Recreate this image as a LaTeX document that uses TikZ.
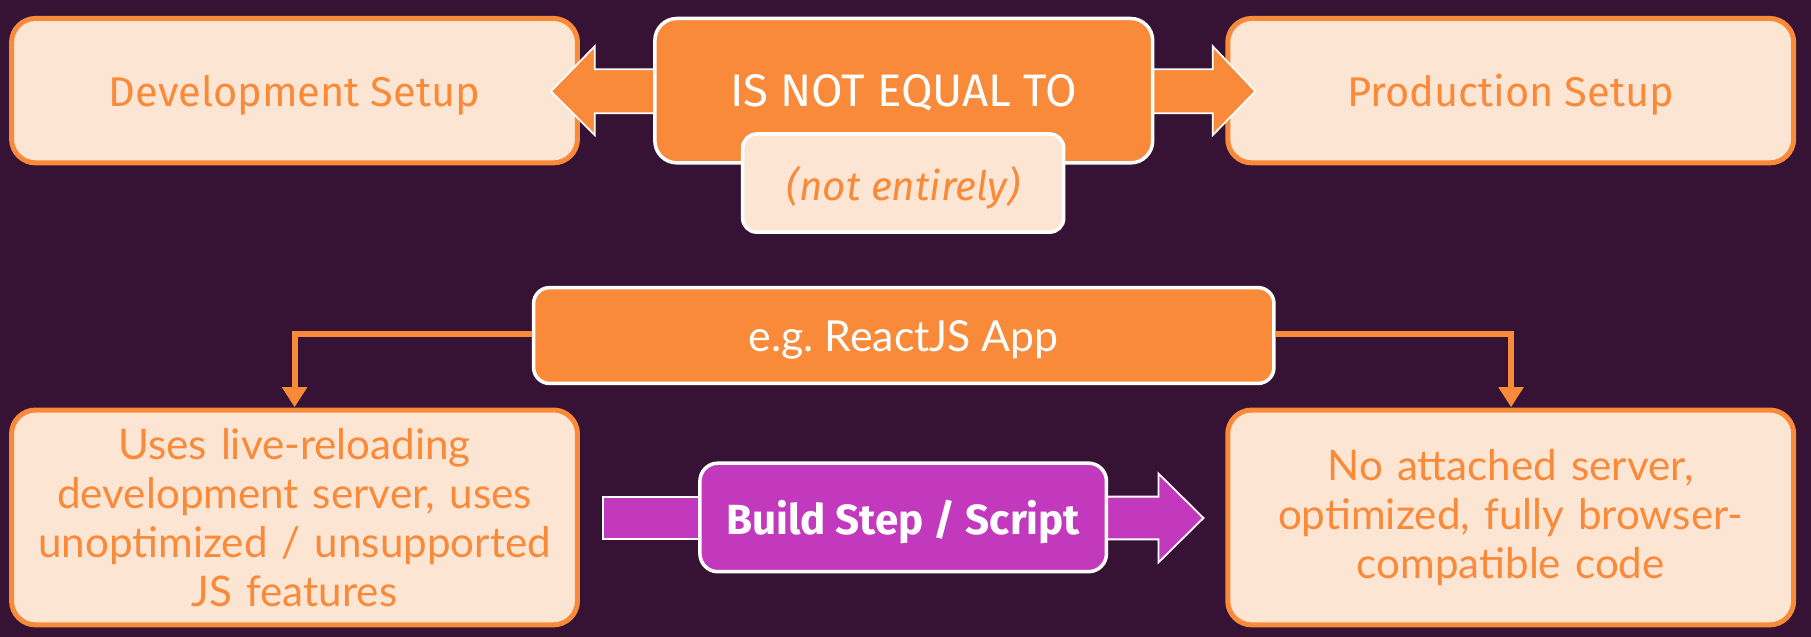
\documentclass[tikz,border=0pt]{standalone}
\usepackage{fontspec}
\setmainfont{Lato}
\newfontfamily\fira{Fira Sans}
\usetikzlibrary{arrows.meta}
\definecolor{bgc}{HTML}{361334}
\definecolor{orng}{HTML}{F98A3A}
\definecolor{lite}{HTML}{FDE5D4}
\definecolor{magen}{HTML}{C339BE}
\tikzset{
  litebox/.style={draw=orng, fill=lite, line width=5pt, rounded corners=24pt, text=orng, align=center, inner sep=0pt},
  orbox/.style={draw=white, fill=orng, line width=3.5pt, rounded corners=22pt, text=white, align=center, inner sep=0pt},
  smallbox/.style={draw=white, fill=lite, line width=3.5pt, rounded corners=14pt, text=orng, inner sep=0pt},
  magbox/.style={draw=white, fill=magen, line width=3.5pt, rounded corners=18pt, text=white, inner sep=0pt},
  blockarrow/.style={draw=white, line width=1.8pt},
  conn/.style={draw=orng, line width=6pt, -{Triangle[length=20pt,width=24pt]}},
  topfont/.style={font=\fira\fontsize{36}{44}\selectfont},
  botfont/.style={font=\fontsize{36.5}{42.5}\selectfont},
  lowtext/.style={text depth=0pt},
}
\begin{document}
\begin{tikzpicture}[x=1pt,y=-1pt,scale=1.155,every node/.append style={transform shape}]
\fill[bgc] (0,0) rectangle (1568,551.5);
\useasboundingbox (0,0) rectangle (1568,551.5);
% top row
\node[litebox, topfont, lowtext, minimum width=490pt, minimum height=125pt] (dev) at (255,78.5) {Development Setup};
\node[litebox, topfont, lowtext, minimum width=490pt, minimum height=125pt] (prod) at (1308,78.5) {Production Setup};
% block arrows
\draw[blockarrow, fill=orng] (575,60) -- (515,60) -- (515,40) -- (477,79) -- (515,117) -- (515,98) -- (575,98);
\draw[blockarrow, fill=orng] (990,60) -- (1050,60) -- (1050,40) -- (1087,79) -- (1050,117) -- (1050,98) -- (990,98);
\node[orbox, lowtext, font=\fira\fontsize{39.5}{44}\selectfont, minimum width=431pt, minimum height=125pt] (neq) at (782.5,78.5) {IS NOT EQUAL TO};
\node[smallbox, lowtext, font=\fira\itshape\fontsize{35}{40}\selectfont, minimum width=278pt, minimum height=85pt] (ne) at (782,158.5) {(not entirely)};
% second row
\node[orbox, lowtext, font=\fontsize{37}{42}\selectfont, minimum width=641pt, minimum height=83pt, rounded corners=16pt] (react) at (782.5,290.5) {e.g.\ ReactJS App};
\node[litebox, botfont, minimum width=490pt, minimum height=186pt, text width=470pt] (devd) at (255,448) {Uses live-reloading\\development server, uses\\unoptimized / unsupported\\JS features};
\node[litebox, botfont, minimum width=490pt, minimum height=186pt, text width=470pt] (prodd) at (1308,448) {No attached server,\\optimized, fully browser-\\compatible code};
\draw[conn] ([yshift=1pt]react.west) -| (devd.north);
\draw[conn] ([yshift=1pt]react.east) -| (prodd.north);
% build step
\draw[blockarrow, fill=magen] (614,430) -- (522,430) -- (522,467) -- (614,467);
\draw[blockarrow, fill=magen] (950,430) -- (1003,430) -- (1003,410) -- (1042,448.5) -- (1003,487) -- (1003,467) -- (950,467);
\node[magbox, lowtext, font=\fira\bfseries\fontsize{36.5}{42}\selectfont, minimum width=352pt, minimum height=94pt] (build) at (782,448) {Build Step / Script};
\end{tikzpicture}
\end{document}
